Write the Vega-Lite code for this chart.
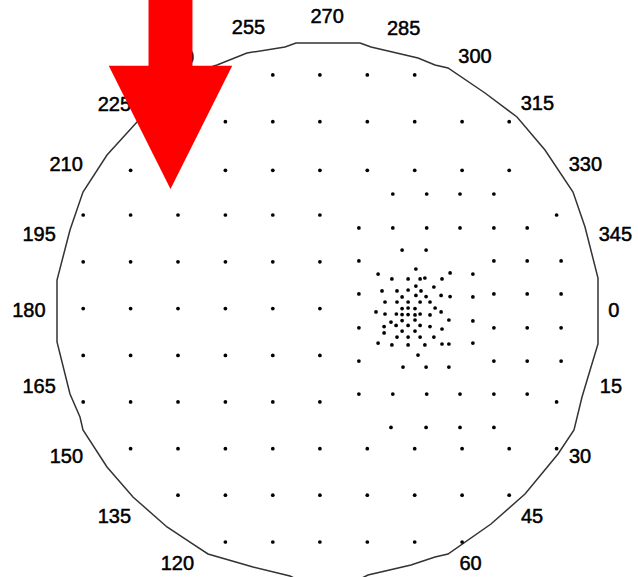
{
  "$schema": "https://vega.github.io/schema/vega-lite/v6.json",
  "width": 638,
  "height": 577,
  "padding": 0,
  "autosize": {"type": "none"},
  "background": "white",
  "config": {"view": {"stroke": null}},
  "encoding": {
    "x": {"field": "x", "type": "quantitative", "scale": {"domain": [-109.333, 103.333], "nice": false, "zero": false}, "axis": null},
    "y": {"field": "y", "type": "quantitative", "scale": {"domain": [-88.667, 103.667], "nice": false, "zero": false}, "axis": null}
  },
  "layer": [
    {
      "data": {"values": [
        {"order": 0, "x": 10.67, "y": 89.33},
        {"order": 1, "x": 14.33, "y": 88.0},
        {"order": 2, "x": 30.0, "y": 84.33},
        {"order": 3, "x": 35.67, "y": 82.0},
        {"order": 4, "x": 40.0, "y": 81.0},
        {"order": 5, "x": 52.33, "y": 72.67},
        {"order": 6, "x": 63.0, "y": 64.67},
        {"order": 7, "x": 72.33, "y": 53.67},
        {"order": 8, "x": 81.67, "y": 39.67},
        {"order": 9, "x": 85.67, "y": 28.0},
        {"order": 10, "x": 90.0, "y": 11.0},
        {"order": 11, "x": 90.0, "y": -11.0},
        {"order": 12, "x": 87.67, "y": -18.67},
        {"order": 13, "x": 84.67, "y": -28.67},
        {"order": 14, "x": 82.0, "y": -39.67},
        {"order": 15, "x": 76.67, "y": -47.67},
        {"order": 16, "x": 65.67, "y": -61.0},
        {"order": 17, "x": 54.33, "y": -71.0},
        {"order": 18, "x": 40.0, "y": -81.0},
        {"order": 19, "x": 35.67, "y": -82.0},
        {"order": 20, "x": 27.67, "y": -84.67},
        {"order": 21, "x": 13.33, "y": -88.0},
        {"order": 22, "x": 10.67, "y": -89.33},
        {"order": 23, "x": -10.67, "y": -89.33},
        {"order": 24, "x": -12.67, "y": -88.33},
        {"order": 25, "x": -25.0, "y": -85.33},
        {"order": 26, "x": -40.0, "y": -81.0},
        {"order": 27, "x": -45.0, "y": -77.67},
        {"order": 28, "x": -53.67, "y": -72.0},
        {"order": 29, "x": -65.0, "y": -62.0},
        {"order": 30, "x": -73.67, "y": -52.0},
        {"order": 31, "x": -81.67, "y": -39.67},
        {"order": 32, "x": -82.67, "y": -35.33},
        {"order": 33, "x": -86.0, "y": -27.67},
        {"order": 34, "x": -90.33, "y": -10.33},
        {"order": 35, "x": -90.33, "y": 10.33},
        {"order": 36, "x": -86.0, "y": 27.0},
        {"order": 37, "x": -81.67, "y": 39.67},
        {"order": 38, "x": -73.67, "y": 52.0},
        {"order": 39, "x": -63.67, "y": 63.0},
        {"order": 40, "x": -52.33, "y": 72.67},
        {"order": 41, "x": -40.0, "y": 81.0},
        {"order": 42, "x": -37.0, "y": 82.0},
        {"order": 43, "x": -27.0, "y": 86.0},
        {"order": 44, "x": -14.33, "y": 88.0},
        {"order": 45, "x": -10.67, "y": 89.33},
        {"order": 46, "x": 10.67, "y": 89.33}
      ]},
      "mark": {"type": "line", "stroke": "#333333", "strokeWidth": 1.5, "interpolate": "linear"},
      "encoding": {"order": {"field": "order", "type": "quantitative"}}
    },
    {
      "data": {"values": [
        {"x": -18.4, "y": 78.7}, {"x": -2.7, "y": 78.7}, {"x": 13.1, "y": 78.7}, {"x": 28.9, "y": 78.7},
        {"x": -34.2, "y": 63.1}, {"x": -18.4, "y": 63.1}, {"x": -2.7, "y": 63.1}, {"x": 13.1, "y": 63.1}, {"x": 28.9, "y": 63.1}, {"x": 44.7, "y": 63.1}, {"x": 60.4, "y": 63.1},
        {"x": -65.8, "y": 46.9}, {"x": -34.2, "y": 46.9}, {"x": -18.4, "y": 46.9}, {"x": -2.7, "y": 46.9}, {"x": 13.1, "y": 46.9}, {"x": 28.9, "y": 46.9}, {"x": 44.7, "y": 46.9}, {"x": 60.4, "y": 46.9},
        {"x": -81.6, "y": 32.0}, {"x": -65.8, "y": 32.0}, {"x": -50.0, "y": 32.0}, {"x": -34.2, "y": 32.0}, {"x": -18.4, "y": 32.0}, {"x": -2.7, "y": 32.0}, {"x": 76.2, "y": 32.0},
        {"x": -81.6, "y": 16.4}, {"x": -65.8, "y": 16.4}, {"x": -50.0, "y": 16.4}, {"x": -34.2, "y": 16.4}, {"x": -18.4, "y": 16.4}, {"x": -2.7, "y": 16.4},
        {"x": -81.6, "y": 0.8}, {"x": -65.8, "y": 0.8}, {"x": -50.0, "y": 0.8}, {"x": -34.2, "y": 0.8}, {"x": -18.4, "y": 0.8}, {"x": -2.7, "y": 0.8},
        {"x": -81.6, "y": -14.8}, {"x": -65.8, "y": -14.8}, {"x": -50.0, "y": -14.8}, {"x": -34.2, "y": -14.8}, {"x": -18.4, "y": -14.8}, {"x": -2.7, "y": -14.8},
        {"x": -81.6, "y": -30.3}, {"x": -65.8, "y": -30.3}, {"x": -50.0, "y": -30.3}, {"x": -34.2, "y": -30.3}, {"x": -18.4, "y": -30.3}, {"x": -2.7, "y": -30.3}, {"x": 76.2, "y": -30.3},
        {"x": -65.8, "y": -45.9}, {"x": -50.0, "y": -45.9}, {"x": -34.2, "y": -45.9}, {"x": -18.4, "y": -45.9}, {"x": -2.7, "y": -45.9}, {"x": 13.1, "y": -45.9}, {"x": 28.9, "y": -45.9}, {"x": 44.7, "y": -45.9}, {"x": 60.4, "y": -45.9}, {"x": 76.2, "y": -45.9},
        {"x": -50.0, "y": -61.4}, {"x": -34.2, "y": -61.4}, {"x": -18.4, "y": -61.4}, {"x": -2.7, "y": -61.4}, {"x": 13.1, "y": -61.4}, {"x": 28.9, "y": -61.4}, {"x": 44.7, "y": -61.4}, {"x": 60.4, "y": -61.4},
        {"x": -34.2, "y": -77.0}, {"x": -18.4, "y": -77.0}, {"x": -2.7, "y": -77.0}, {"x": 13.1, "y": -77.0}, {"x": 28.9, "y": -77.0}, {"x": 44.7, "y": -77.0},
        {"x": 21.6, "y": 39.0}, {"x": 32.9, "y": 39.0}, {"x": 44.0, "y": 39.0}, {"x": 55.3, "y": 39.0},
        {"x": 10.3, "y": 27.7}, {"x": 21.6, "y": 27.7}, {"x": 32.9, "y": 27.7}, {"x": 44.0, "y": 27.7}, {"x": 55.3, "y": 27.7}, {"x": 66.4, "y": 27.7},
        {"x": 10.3, "y": 16.7}, {"x": 55.3, "y": 16.7}, {"x": 66.4, "y": 16.7}, {"x": 77.7, "y": 16.7},
        {"x": 10.3, "y": 5.7}, {"x": 55.3, "y": 5.7}, {"x": 66.4, "y": 5.7}, {"x": 77.7, "y": 5.7},
        {"x": 10.3, "y": -5.6}, {"x": 55.3, "y": -5.6}, {"x": 66.4, "y": -5.6}, {"x": 77.7, "y": -5.6},
        {"x": 10.3, "y": -16.7}, {"x": 55.3, "y": -16.7}, {"x": 66.4, "y": -16.7}, {"x": 77.7, "y": -16.7},
        {"x": 10.3, "y": -27.7}, {"x": 21.6, "y": -27.7}, {"x": 32.9, "y": -27.7}, {"x": 44.0, "y": -27.7}, {"x": 55.3, "y": -27.7}, {"x": 66.4, "y": -27.7},
        {"x": 21.0, "y": -38.8}, {"x": 32.7, "y": -38.8}, {"x": 44.0, "y": -38.8}, {"x": 55.3, "y": -38.8},
        {"x": 29.3, "y": 14.0}, {"x": 16.7, "y": 12.3}, {"x": 40.7, "y": 12.7}, {"x": 48.3, "y": 12.3},
        {"x": 21.3, "y": 10.7}, {"x": 26.7, "y": 10.7}, {"x": 30.7, "y": 10.7}, {"x": 32.3, "y": 11.0}, {"x": 38.0, "y": 10.7},
        {"x": 29.3, "y": 8.3}, {"x": 35.3, "y": 8.0},
        {"x": 18.0, "y": 6.7}, {"x": 23.0, "y": 6.7}, {"x": 26.7, "y": 7.0}, {"x": 31.0, "y": 6.7},
        {"x": 29.3, "y": 5.2}, {"x": 24.7, "y": 4.7}, {"x": 32.7, "y": 4.8}, {"x": 37.7, "y": 5.2}, {"x": 40.7, "y": 4.8}, {"x": 48.3, "y": 4.7},
        {"x": 19.0, "y": 3.0}, {"x": 23.0, "y": 3.0}, {"x": 26.7, "y": 3.0}, {"x": 30.7, "y": 3.0}, {"x": 34.0, "y": 3.0},
        {"x": 24.7, "y": 0.8}, {"x": 26.7, "y": 1.0}, {"x": 29.0, "y": 0.8}, {"x": 35.7, "y": 1.0},
        {"x": 16.0, "y": -0.3}, {"x": 19.0, "y": -1.0}, {"x": 22.8, "y": -1.0}, {"x": 24.7, "y": -1.2}, {"x": 26.7, "y": -1.2}, {"x": 29.0, "y": -1.3}, {"x": 30.7, "y": -1.0}, {"x": 34.0, "y": -1.3}, {"x": 37.7, "y": -0.3},
        {"x": 21.0, "y": -3.7}, {"x": 24.7, "y": -3.2}, {"x": 29.0, "y": -3.0}, {"x": 40.3, "y": -3.0}, {"x": 48.3, "y": -3.3},
        {"x": 18.7, "y": -5.2}, {"x": 22.7, "y": -4.8}, {"x": 26.7, "y": -4.8}, {"x": 30.7, "y": -4.8}, {"x": 34.0, "y": -5.2}, {"x": 38.0, "y": -6.0},
        {"x": 18.7, "y": -7.3}, {"x": 24.7, "y": -6.7}, {"x": 29.0, "y": -6.7},
        {"x": 23.0, "y": -8.7}, {"x": 26.7, "y": -8.7}, {"x": 30.7, "y": -8.7}, {"x": 35.3, "y": -8.7},
        {"x": 16.7, "y": -10.7}, {"x": 21.3, "y": -11.3}, {"x": 26.7, "y": -11.3}, {"x": 32.3, "y": -11.3}, {"x": 38.0, "y": -11.0}, {"x": 40.3, "y": -11.0}, {"x": 48.3, "y": -10.7},
        {"x": 30.0, "y": -14.7},
        {"x": 24.7, "y": 20.3}, {"x": 32.7, "y": 20.3},
        {"x": 25.0, "y": -18.7}, {"x": 32.7, "y": -18.7}, {"x": 40.3, "y": -18.7}
      ]},
      "mark": {"type": "point", "filled": true, "size": 14, "color": "#000000", "opacity": 1, "strokeWidth": 0}
    },
    {
      "data": {"values": [
        {"label": "0", "x": 95.3, "y": 0},
        {"label": "15", "x": 94.3, "y": -25.2},
        {"label": "30", "x": 84.0, "y": -48.7},
        {"label": "45", "x": 68.0, "y": -68.7},
        {"label": "60", "x": 47.5, "y": -84.2},
        {"label": "120", "x": -50.2, "y": -84.3},
        {"label": "135", "x": -71.2, "y": -68.7},
        {"label": "150", "x": -87.2, "y": -48.7},
        {"label": "165", "x": -96.3, "y": -25.2},
        {"label": "180", "x": -99.7, "y": 0},
        {"label": "195", "x": -96.3, "y": 25.3},
        {"label": "210", "x": -87.3, "y": 48.8},
        {"label": "225", "x": -71.2, "y": 68.8},
        {"label": "240", "x": -50.2, "y": 84.3},
        {"label": "255", "x": -26.5, "y": 94.2},
        {"label": "270", "x": -0.3, "y": 98.0},
        {"label": "285", "x": 25.2, "y": 94.0},
        {"label": "300", "x": 49.0, "y": 84.7},
        {"label": "315", "x": 69.8, "y": 69.0},
        {"label": "330", "x": 85.8, "y": 48.8},
        {"label": "345", "x": 95.8, "y": 25.3}
      ]},
      "mark": {"type": "text", "font": "Liberation Sans", "fontSize": 20, "color": "#000000", "stroke": "#000000", "strokeWidth": 0.5, "align": "center", "baseline": "middle"},
      "encoding": {"text": {"field": "label", "type": "nominal"}}
    },
    {
      "data": {"values": [{"label": "arrow", "x": -52.5, "y": 84.0}]},
      "mark": {"type": "point", "shape": "M-0.169,-1L0.169,-1L0.169,0.052L0.475,0.052L0,1L-0.475,0.052L-0.169,0.052Z", "size": 67600, "filled": true, "color": "#FF0000", "opacity": 1, "strokeWidth": 0}
    }
  ]
}
